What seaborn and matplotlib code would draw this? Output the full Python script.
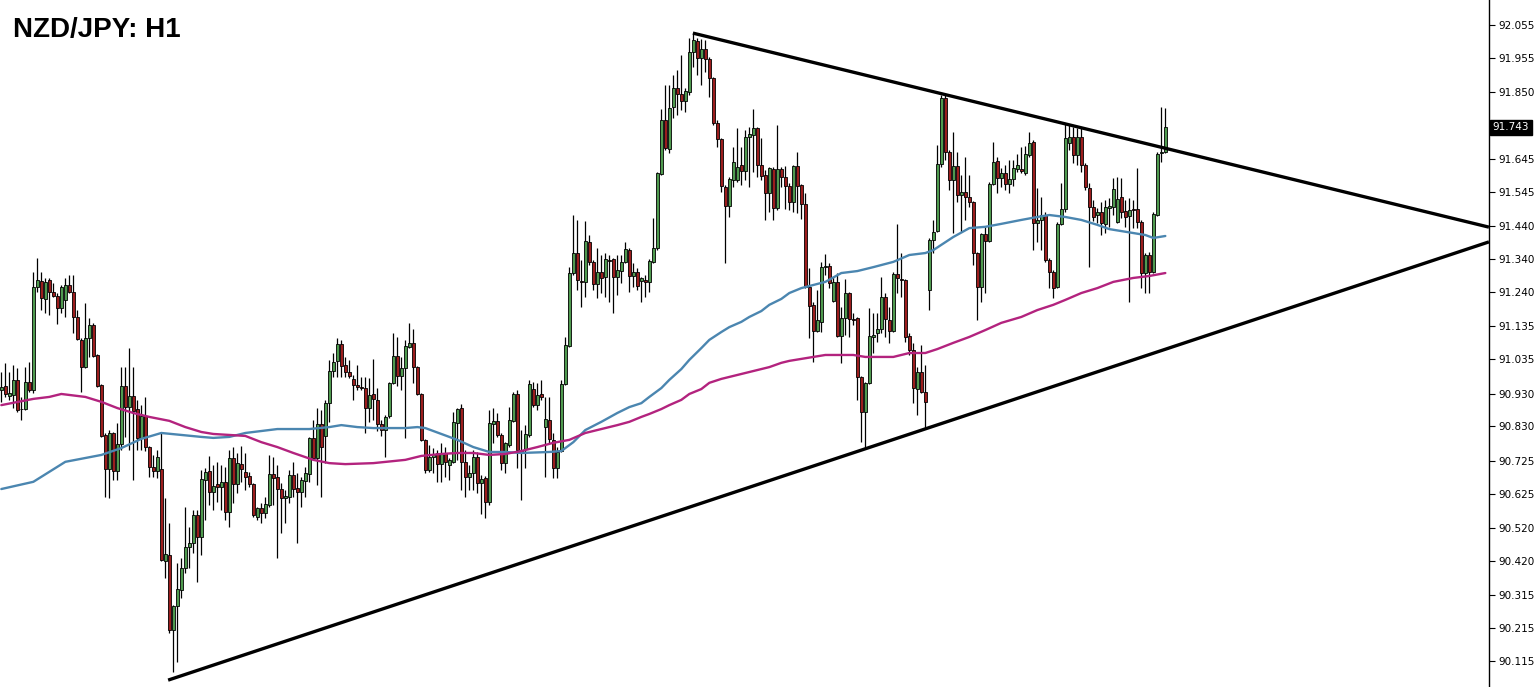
import numpy as np
import pandas as pd
import matplotlib
matplotlib.use("Agg")
import matplotlib.pyplot as plt
import matplotlib.transforms as mtransforms
import seaborn as sns

# ---------------- data ----------------
opens = [
 90.941, 90.954, 90.923, 90.926, 90.972, 90.882, 90.883, 90.966, 90.941, 91.256,
 91.274, 91.219, 91.277, 91.240, 91.228, 91.191, 91.216, 91.262, 91.240, 91.164,
 91.094, 91.011, 91.100, 91.140, 91.048, 90.957, 90.804, 90.700, 90.810, 90.694,
 90.776, 90.954, 90.889, 90.923, 90.883, 90.795, 90.862, 90.767, 90.706, 90.694,
 90.700, 90.420, 90.438, 90.209, 90.282, 90.331, 90.398, 90.462, 90.474, 90.560,
 90.493, 90.667, 90.694, 90.630, 90.654, 90.645, 90.661, 90.569, 90.734, 90.654,
 90.715, 90.691, 90.679, 90.654, 90.554, 90.581, 90.566, 90.591, 90.685, 90.676,
 90.639, 90.612, 90.615, 90.682, 90.642, 90.630, 90.664, 90.685, 90.795, 90.734,
 90.838, 90.801, 90.902, 90.999, 91.030, 91.082, 91.017, 90.996, 90.975, 90.957,
 90.950, 90.947, 90.886, 90.929, 90.911, 90.838, 90.819, 90.862, 90.963, 91.045,
 90.984, 91.008, 91.072, 91.085, 91.011, 90.929, 90.789, 90.697, 90.737, 90.749,
 90.715, 90.749, 90.712, 90.722, 90.841, 90.886, 90.722, 90.676, 90.688, 90.737,
 90.658, 90.673, 90.600, 90.838, 90.847, 90.804, 90.718, 90.773, 90.847, 90.929,
 90.758, 90.761, 90.804, 90.944, 90.895, 90.929, 90.829, 90.850, 90.789, 90.703,
 90.755, 90.960, 91.075, 91.298, 91.359, 91.274, 91.271, 91.393, 91.332, 91.265,
 91.301, 91.286, 91.338, 91.341, 91.286, 91.304, 91.332, 91.368, 91.289, 91.301,
 91.274, 91.277, 91.271, 91.332, 91.374, 91.600, 91.765, 91.676, 91.804, 91.862,
 91.844, 91.823, 91.850, 91.972, 92.006, 91.954, 91.981, 91.951, 91.893, 91.756,
 91.707, 91.561, 91.503, 91.582, 91.582, 91.628, 91.609, 91.713, 91.719, 91.740,
 91.628, 91.597, 91.542, 91.615, 91.496, 91.615, 91.591, 91.564, 91.515, 91.625,
 91.567, 91.509, 91.256, 91.200, 91.121, 91.149, 91.316, 91.319, 91.213, 91.271,
 91.106, 91.161, 91.237, 91.158, 91.161, 90.981, 90.874, 90.963, 91.103, 91.115,
 91.127, 91.225, 91.155, 91.121, 91.295, 91.279, 91.277, 91.106, 91.063, 90.944,
 90.996, 90.935, 91.246, 91.399, 91.426, 91.631, 91.832, 91.667, 91.582, 91.625,
 91.536, 91.545, 91.530, 91.515, 91.359, 91.256, 91.417, 91.396, 91.570, 91.640,
 91.588, 91.603, 91.570, 91.585, 91.615, 91.615, 91.603, 91.658, 91.698, 91.451,
 91.460, 91.475, 91.338, 91.301, 91.256, 91.448, 91.493, 91.695, 91.713, 91.658,
 91.713, 91.628, 91.558, 91.499, 91.475, 91.484, 91.448, 91.496, 91.499, 91.454,
 91.530, 91.487, 91.472, 91.493, 91.493, 91.454, 91.298, 91.353, 91.301, 91.475,
 91.664, 91.667]

highs = [
 90.996, 91.024, 90.996, 91.018, 91.008, 90.920, 91.011, 91.027, 91.301, 91.344,
 91.301, 91.283, 91.283, 91.268, 91.237, 91.262, 91.283, 91.292, 91.292, 91.185,
 91.100, 91.207, 91.161, 91.146, 91.051, 90.960, 90.810, 90.819, 90.813, 90.841,
 91.011, 91.011, 91.069, 91.011, 90.911, 90.895, 90.920, 90.770, 90.743, 90.758,
 90.810, 90.612, 90.536, 90.285, 90.414, 90.429, 90.584, 90.523, 90.575, 90.575,
 90.697, 90.703, 90.740, 90.712, 90.722, 90.712, 90.706, 90.758, 90.767, 90.749,
 90.770, 90.749, 90.691, 90.658, 90.584, 90.597, 90.615, 90.743, 90.737, 90.712,
 90.658, 90.636, 90.697, 90.722, 90.688, 90.676, 90.706, 90.798, 90.850, 90.886,
 90.880, 90.911, 91.033, 91.054, 91.100, 91.094, 91.042, 91.033, 90.987, 91.018,
 90.981, 90.981, 90.978, 91.036, 90.947, 90.850, 90.865, 90.966, 91.115, 91.103,
 91.042, 91.094, 91.146, 91.127, 91.014, 90.932, 90.792, 90.773, 90.764, 90.758,
 90.780, 90.767, 90.734, 90.874, 90.886, 90.899, 90.758, 90.712, 90.758, 90.752,
 90.682, 90.679, 90.880, 90.886, 90.871, 90.810, 90.783, 90.889, 90.935, 90.941,
 90.819, 90.834, 90.972, 90.966, 90.963, 90.972, 90.920, 90.920, 90.810, 90.767,
 90.972, 91.103, 91.316, 91.475, 91.460, 91.338, 91.457, 91.414, 91.338, 91.374,
 91.353, 91.359, 91.353, 91.344, 91.353, 91.353, 91.393, 91.374, 91.329, 91.313,
 91.286, 91.292, 91.341, 91.466, 91.606, 91.798, 91.872, 91.872, 91.902, 91.917,
 91.963, 91.862, 92.015, 92.030, 92.015, 92.012, 92.009, 91.957, 91.896, 91.765,
 91.710, 91.567, 91.591, 91.682, 91.740, 91.682, 91.734, 91.744, 91.798, 91.744,
 91.710, 91.612, 91.622, 91.622, 91.750, 91.622, 91.625, 91.573, 91.628, 91.667,
 91.570, 91.542, 91.313, 91.210, 91.246, 91.332, 91.356, 91.329, 91.286, 91.298,
 91.194, 91.280, 91.240, 91.176, 91.164, 90.984, 90.966, 91.191, 91.176, 91.176,
 91.286, 91.237, 91.194, 91.301, 91.448, 91.359, 91.280, 91.115, 91.085, 91.011,
 91.079, 91.018, 91.405, 91.460, 91.689, 91.841, 91.841, 91.673, 91.728, 91.667,
 91.597, 91.652, 91.597, 91.518, 91.362, 91.420, 91.439, 91.576, 91.698, 91.652,
 91.618, 91.628, 91.643, 91.643, 91.661, 91.682, 91.686, 91.728, 91.704, 91.557,
 91.530, 91.484, 91.344, 91.307, 91.454, 91.573, 91.756, 91.750, 91.744, 91.740,
 91.744, 91.634, 91.573, 91.521, 91.496, 91.515, 91.521, 91.527, 91.588, 91.591,
 91.588, 91.521, 91.527, 91.521, 91.618, 91.460, 91.359, 91.362, 91.484, 91.667,
 91.804, 91.801]

lows = [
 90.905, 90.920, 90.911, 90.886, 90.874, 90.850, 90.880, 90.935, 90.932, 91.240,
 91.185, 91.176, 91.170, 91.225, 91.143, 91.176, 91.164, 91.237, 91.115, 91.094,
 90.935, 91.008, 91.042, 91.042, 90.950, 90.798, 90.615, 90.612, 90.667, 90.667,
 90.758, 90.798, 90.758, 90.667, 90.758, 90.758, 90.755, 90.676, 90.676, 90.673,
 90.420, 90.368, 90.200, 90.081, 90.111, 90.307, 90.383, 90.398, 90.444, 90.355,
 90.438, 90.545, 90.590, 90.575, 90.600, 90.575, 90.545, 90.523, 90.597, 90.627,
 90.661, 90.636, 90.645, 90.554, 90.545, 90.535, 90.551, 90.584, 90.590, 90.429,
 90.505, 90.535, 90.597, 90.615, 90.474, 90.584, 90.615, 90.661, 90.728, 90.651,
 90.615, 90.718, 90.844, 90.981, 90.981, 90.981, 90.981, 90.978, 90.911, 90.941,
 90.941, 90.810, 90.844, 90.850, 90.816, 90.801, 90.737, 90.856, 90.960, 90.954,
 90.941, 90.795, 91.069, 90.963, 90.926, 90.786, 90.688, 90.691, 90.688, 90.661,
 90.661, 90.676, 90.667, 90.718, 90.728, 90.636, 90.615, 90.636, 90.636, 90.627,
 90.563, 90.551, 90.590, 90.780, 90.798, 90.697, 90.688, 90.767, 90.844, 90.703,
 90.606, 90.703, 90.798, 90.889, 90.880, 90.911, 90.676, 90.780, 90.673, 90.673,
 90.752, 90.957, 91.072, 91.292, 91.246, 91.194, 91.225, 91.323, 91.246, 91.222,
 91.237, 91.225, 91.210, 91.176, 91.231, 91.268, 91.329, 91.240, 91.256, 91.246,
 91.210, 91.225, 91.240, 91.329, 91.368, 91.597, 91.673, 91.664, 91.771, 91.780,
 91.795, 91.789, 91.841, 91.927, 91.902, 91.872, 91.911, 91.835, 91.750, 91.682,
 91.545, 91.329, 91.469, 91.561, 91.576, 91.567, 91.582, 91.561, 91.606, 91.591,
 91.582, 91.460, 91.484, 91.460, 91.490, 91.561, 91.493, 91.490, 91.484, 91.481,
 91.463, 91.252, 91.100, 91.027, 91.118, 91.118, 91.292, 91.252, 91.210, 91.103,
 91.024, 91.109, 91.103, 91.140, 90.911, 90.783, 90.764, 90.960, 91.054, 91.088,
 91.115, 91.103, 91.085, 91.118, 91.237, 91.225, 91.088, 91.048, 90.902, 90.865,
 90.932, 90.825, 91.185, 91.359, 91.423, 91.622, 91.643, 91.551, 91.420, 91.515,
 91.423, 91.460, 91.499, 91.323, 91.155, 91.210, 91.237, 91.393, 91.567, 91.542,
 91.561, 91.551, 91.542, 91.564, 91.606, 91.603, 91.597, 91.652, 91.368, 91.393,
 91.368, 91.332, 91.252, 91.222, 91.252, 91.445, 91.484, 91.673, 91.634, 91.628,
 91.606, 91.551, 91.316, 91.457, 91.451, 91.414, 91.420, 91.439, 91.475, 91.451,
 91.466, 91.439, 91.210, 91.435, 91.435, 91.252, 91.237, 91.237, 91.298, 91.472,
 91.637, 91.664]

closes = [
 90.950, 90.929, 90.932, 90.972, 90.880, 90.884, 90.966, 90.941, 91.256, 91.277,
 91.222, 91.271, 91.240, 91.228, 91.191, 91.256, 91.262, 91.240, 91.164, 91.097,
 91.011, 91.100, 91.140, 91.045, 90.954, 90.801, 90.700, 90.810, 90.694, 90.776,
 90.954, 90.889, 90.923, 90.877, 90.795, 90.862, 90.767, 90.706, 90.694, 90.737,
 90.423, 90.441, 90.209, 90.282, 90.334, 90.398, 90.462, 90.474, 90.560, 90.493,
 90.670, 90.691, 90.630, 90.648, 90.645, 90.661, 90.569, 90.734, 90.654, 90.718,
 90.700, 90.676, 90.654, 90.560, 90.581, 90.566, 90.594, 90.685, 90.673, 90.639,
 90.612, 90.618, 90.682, 90.639, 90.630, 90.667, 90.688, 90.795, 90.734, 90.838,
 90.767, 90.902, 90.999, 91.027, 91.082, 91.014, 90.996, 90.984, 90.957, 90.950,
 90.948, 90.886, 90.926, 90.914, 90.838, 90.819, 90.859, 90.963, 91.045, 90.984,
 91.008, 91.075, 91.085, 91.011, 90.929, 90.789, 90.697, 90.737, 90.746, 90.715,
 90.749, 90.722, 90.728, 90.844, 90.883, 90.722, 90.676, 90.688, 90.737, 90.658,
 90.670, 90.600, 90.841, 90.847, 90.804, 90.718, 90.780, 90.850, 90.929, 90.758,
 90.756, 90.807, 90.960, 90.895, 90.926, 90.920, 90.853, 90.792, 90.703, 90.752,
 90.960, 91.079, 91.298, 91.359, 91.277, 91.271, 91.396, 91.332, 91.265, 91.301,
 91.283, 91.341, 91.336, 91.286, 91.307, 91.332, 91.371, 91.289, 91.301, 91.259,
 91.283, 91.271, 91.335, 91.374, 91.603, 91.765, 91.679, 91.801, 91.862, 91.844,
 91.823, 91.853, 91.972, 92.009, 91.954, 91.981, 91.951, 91.893, 91.756, 91.707,
 91.564, 91.503, 91.585, 91.637, 91.622, 91.609, 91.713, 91.722, 91.740, 91.628,
 91.594, 91.542, 91.618, 91.496, 91.615, 91.591, 91.564, 91.515, 91.625, 91.564,
 91.509, 91.256, 91.197, 91.121, 91.155, 91.316, 91.319, 91.268, 91.271, 91.106,
 91.161, 91.237, 91.158, 91.156, 90.981, 90.874, 90.963, 91.106, 91.109, 91.127,
 91.225, 91.158, 91.121, 91.295, 91.283, 91.277, 91.103, 91.063, 90.947, 90.996,
 90.935, 90.905, 91.399, 91.423, 91.631, 91.832, 91.667, 91.582, 91.625, 91.536,
 91.545, 91.530, 91.515, 91.359, 91.256, 91.417, 91.396, 91.570, 91.637, 91.588,
 91.603, 91.570, 91.585, 91.618, 91.628, 91.609, 91.661, 91.695, 91.451, 91.460,
 91.475, 91.338, 91.301, 91.252, 91.448, 91.493, 91.710, 91.713, 91.658, 91.713,
 91.628, 91.561, 91.499, 91.469, 91.484, 91.451, 91.499, 91.503, 91.554, 91.524,
 91.484, 91.469, 91.490, 91.491, 91.454, 91.298, 91.353, 91.301, 91.478, 91.661,
 91.667, 91.743]

# moving averages read at sampled candle positions
ma_fast_idx = [0, 8, 16, 25, 30, 35, 40, 50, 53, 57, 61, 65, 69, 77, 82, 85, 89, 93, 101, 104,
               106, 110, 114, 118, 122, 126, 130, 137, 140, 143, 146, 150, 154, 157, 160, 162, 165, 167, 170, 172,
               175, 177, 180, 182, 185, 187, 190, 192, 195, 197, 200, 206, 210, 214, 218, 223, 227, 231, 233, 238,
               242, 246, 250, 255, 259, 262, 266, 270, 274, 277, 283, 286, 288, 291]
ma_fast_val = [90.639, 90.661, 90.722, 90.743, 90.764, 90.792, 90.810, 90.798, 90.795, 90.798,
               90.810, 90.816, 90.822, 90.822, 90.828, 90.834, 90.828, 90.825, 90.825, 90.828,
               90.825, 90.807, 90.789, 90.767, 90.752, 90.752, 90.749, 90.752, 90.755, 90.782,
               90.819, 90.844, 90.871, 90.889, 90.901, 90.920, 90.947, 90.972, 91.005, 91.033,
               91.069, 91.094, 91.118, 91.133, 91.149, 91.164, 91.182, 91.201, 91.219, 91.237,
               91.252, 91.271, 91.298, 91.304, 91.316, 91.332, 91.353, 91.359, 91.368, 91.408,
               91.435, 91.439, 91.448, 91.460, 91.469, 91.475, 91.469, 91.460, 91.445, 91.432,
               91.420, 91.414, 91.405, 91.411]

ma_slow_idx = [0, 8, 12, 15, 21, 25, 29, 33, 37, 42, 46, 50, 53, 57, 61, 65, 69, 73, 78, 82,
               86, 93, 101, 105, 110, 114, 118, 122, 126, 130, 134, 138, 142, 146, 150, 154, 157, 160, 162, 165,
               167, 170, 172, 175, 177, 180, 182, 185, 187, 190, 192, 195, 197, 200, 206, 213, 216, 223, 227, 231,
               234, 238, 242, 246, 250, 255, 259, 263, 266, 270, 274, 278, 283, 287, 291]
ma_slow_val = [90.895, 90.914, 90.920, 90.929, 90.920, 90.905, 90.886, 90.871, 90.859, 90.847,
               90.828, 90.813, 90.807, 90.804, 90.801, 90.782, 90.767, 90.749, 90.728, 90.718,
               90.715, 90.718, 90.728, 90.740, 90.746, 90.749, 90.749, 90.743, 90.746, 90.755,
               90.767, 90.780, 90.789, 90.810, 90.822, 90.834, 90.844, 90.859, 90.868, 90.883,
               90.895, 90.911, 90.929, 90.944, 90.963, 90.975, 90.981, 90.990, 90.996, 91.005,
               91.011, 91.024, 91.030, 91.036, 91.048, 91.048, 91.042, 91.042, 91.054, 91.054,
               91.066, 91.085, 91.103, 91.124, 91.146, 91.164, 91.185, 91.201, 91.216, 91.237,
               91.252, 91.271, 91.283, 91.289, 91.298]

# trend lines (candle index, price)
upper_trend_x = [172.9, 371.9]
upper_trend_y = [92.030, 91.438]
lower_trend_x = [41.7, 371.9]
lower_trend_y = [90.056, 91.393]

tick_values = [92.055, 91.955, 91.850, 91.645, 91.545, 91.440, 91.340, 91.240, 91.135,
               91.035, 90.930, 90.830, 90.725, 90.625, 90.520, 90.420, 90.315, 90.215, 90.115]
last_price = 91.743
title_text = "NZD/JPY: H1"

# ---------------- drawing ----------------
sns.set_style("white")
plt.rcParams['font.family'] = ['DejaVu Sans']

W, H = 1536, 687
fig = plt.figure(figsize=(W / 100, H / 100), dpi=100)
fig.patch.set_facecolor("white")
ax = fig.add_axes([0, 0, 1489 / W, 1])
ax.set_facecolor("white")

df = pd.DataFrame({"open": opens, "high": highs, "low": lows, "close": closes})
df["idx"] = np.arange(len(df))
up = df["close"] >= df["open"]

GREEN = "#4f9a4f"
RED = "#9b1d1d"

wick_lo = np.minimum(df["low"], np.minimum(df["open"], df["close"]))
wick_hi = np.maximum(df["high"], np.maximum(df["open"], df["close"]))
ax.vlines(df["idx"], wick_lo, wick_hi, color="black", lw=0.9, zorder=2)

body_bottom = np.minimum(df["open"], df["close"])
body_h = np.maximum(np.abs(df["close"] - df["open"]), 0.0025)
colors = np.where(up, GREEN, RED)
ax.bar(df["idx"], body_h, bottom=body_bottom, width=0.62, color=colors,
       edgecolor="black", linewidth=0.6, zorder=3)

fast = pd.DataFrame({"i": ma_fast_idx, "v": ma_fast_val})
slow = pd.DataFrame({"i": ma_slow_idx, "v": ma_slow_val})
sns.lineplot(data=fast, x="i", y="v", ax=ax, color="#4b86b0", lw=1.7,
             estimator=None, sort=False, legend=False, zorder=4)
sns.lineplot(data=slow, x="i", y="v", ax=ax, color="#b3237e", lw=1.7,
             estimator=None, sort=False, legend=False, zorder=4)

ax.plot(upper_trend_x, upper_trend_y, color="black", lw=2.4, zorder=5, solid_capstyle="butt")
ax.plot(lower_trend_x, lower_trend_y, color="black", lw=2.4, zorder=5, solid_capstyle="butt")

ax.set_xlim(-0.333, 371.92)
ax.set_ylim(90.035, 92.131)
ax.set_xlabel("")
ax.set_ylabel("")
ax.set_xticks([])

ax.yaxis.tick_right()
ax.set_yticks(tick_values)
ax.set_yticklabels([f"{v:.3f}" for v in tick_values])
ax.tick_params(axis="y", direction="out", length=4, width=0.8, pad=3,
               labelsize=7.5, colors="black")

for side in ["top", "left", "bottom"]:
    ax.spines[side].set_visible(False)
ax.spines["right"].set_visible(True)
ax.spines["right"].set_color("black")
ax.spines["right"].set_linewidth(1.0)

trans = mtransforms.blended_transform_factory(ax.transAxes, ax.transData)
ax.text(1.0025, last_price, f"{last_price:.3f}", transform=trans, color="white",
        fontsize=7.5, va="center", ha="left", clip_on=False, zorder=10,
        bbox=dict(facecolor="black", edgecolor="black", boxstyle="square,pad=0.25"))

fig.text(13 / W, 1 - 37 / H, title_text, fontsize=20, fontweight="bold",
         family=["Liberation Sans", "DejaVu Sans"], va="baseline", ha="left", color="black")

fig.savefig("out.png", dpi=100, facecolor="white")
